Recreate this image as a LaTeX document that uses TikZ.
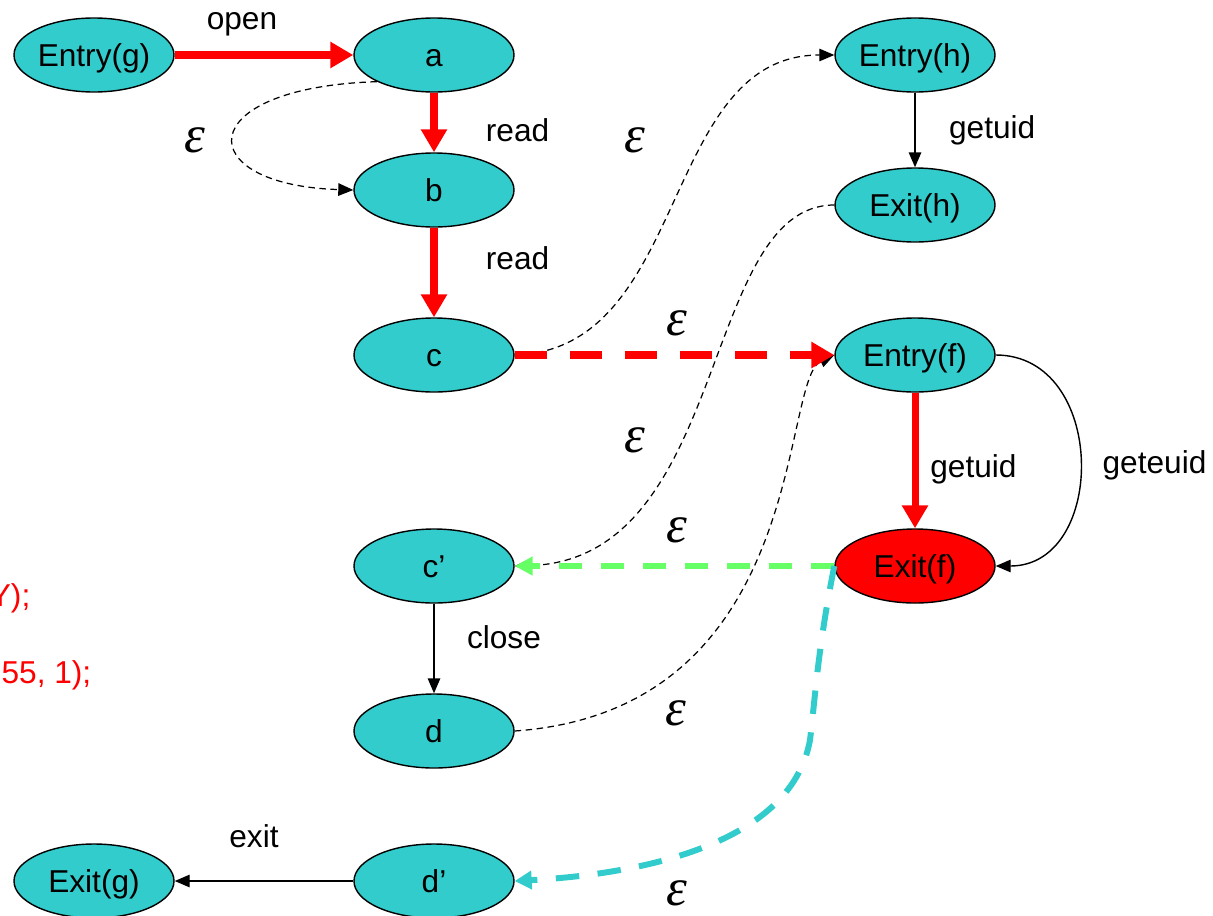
\documentclass[tikz,border=0pt]{standalone}
\usepackage{fontspec}
\setmainfont{Liberation Sans}
\newfontfamily\epsfont{Liberation Serif}
\usepackage{tikz}
\usetikzlibrary{shapes.geometric, arrows.meta}
\definecolor{statecyan}{RGB}{51,204,204}
\definecolor{retgreen}{RGB}{102,255,102}
\newcommand{\epsl}{{\epsfont\itshape\fontsize{30}{32}\selectfont ε}}
\tikzstyle{state} = [ellipse, minimum width=3.2cm, minimum height=1.48cm, inner sep=0pt, text height=13.5pt, text depth=0.6pt, text centered, draw=black, line width=0.8pt, fill=statecyan]
\tikzstyle{exitstate} = [state, fill=red]
\tikzstyle{arrow} = [line width=0.8pt, -{Triangle[length=0.3cm, width=0.25cm]}]
\tikzstyle{epsarrow} = [line width=0.7pt, dash pattern=on 0.13cm off 0.09cm, -{Triangle[length=0.3cm, width=0.25cm]}]
\tikzstyle{redarrow} = [line width=4pt, red, -{Triangle[length=0.46cm, width=0.5cm]}]
\tikzstyle{redepsarrow} = [redarrow, dash pattern=on 0.64cm off 0.46cm]
\tikzstyle{greenarrow} = [line width=3.2pt, retgreen, dash pattern=on 0.47cm off 0.37cm, -{Triangle[length=0.36cm, width=0.36cm]}]
\tikzstyle{cyanarrow} = [line width=3.4pt, statecyan, dash pattern=on 0.47cm off 0.37cm, -{Triangle[length=0.34cm, width=0.36cm]}]

\begin{document}
\begin{tikzpicture}[node distance=3.3cm, font=\fontsize{18}{21}\selectfont]

			\useasboundingbox (0,0) rectangle (24.26,-18.3);

			% left column: g
			\node (entryg) [state] at (1.88,-1.1) {Entry(g)};
			\node (a) [state, right of=entryg, xshift=3.5cm] {a};
			\node (b) [state, below of=a, yshift=0.6cm] {b};
			\node (c) [state, below of=b] {c};
			\node (cp) [state, below of=c, yshift=-0.92cm] {c’};
			\node (d) [state, below of=cp] {d};
			\node (dp) [state, below of=d, yshift=0.3cm] {d’};
			\node (exitg) [state, left of=dp, xshift=-3.5cm] {Exit(g)};

			% right column: h and f
			\node (entryh) [state, right of=a, xshift=6.32cm] {Entry(h)};
			\node (exith) [state, below of=entryh, yshift=0.3cm] {Exit(h)};
			\node (entryf) [state, right of=c, xshift=6.32cm] {Entry(f)};
			\node (exitf) [exitstate, right of=cp, xshift=6.32cm] {Exit(f)};

			% cut-off code lines
			\node (code1) [anchor=east, red] at (0.73,-11.96) {Y);};
			\node (code2) [anchor=east, red] at (1.95,-13.5) {55, 1);};

			\draw [redarrow] (entryg) -- node[midway, above, xshift=-0.44cm, yshift=0.2cm, black]{open} (a);
			\draw [redarrow] (a) -- node[midway, right, xshift=0.85cm, yshift=-0.16cm, black]{read} (b);
			\draw [redarrow] (b) -- node[midway, right, xshift=0.85cm, yshift=0.28cm, black]{read} (c);
			\draw [epsarrow] (a.south west) .. controls (3.8,-1.75) and (3.8,-3.7) .. node[midway, xshift=-0.78cm, yshift=-0.08cm]{\epsl} (b.west);

			\draw [arrow] (entryh) -- node[midway, right, xshift=0.55cm]{getuid} (exith);
			\draw [redarrow] (entryf) -- node[midway, right, xshift=0.12cm, yshift=-0.17cm, black]{getuid} (exitf);
			\draw [arrow] (entryf.east) .. controls (22.15,-7.1) and (22.15,-11.32) .. node[midway, right, xshift=0.33cm, yshift=-0.09cm]{geteuid} (exitf.east);

			\draw [epsarrow] (c.east) .. controls (13.8,-7.0) and (13.2,-1.1) .. node[midway, xshift=-0.8cm, yshift=1.26cm]{\epsl} (entryh.west);
			\draw [epsarrow] (exith.west) .. controls (14.0,-4.1) and (14.6,-11.2) .. node[midway, xshift=-1.4cm, yshift=-1.14cm]{\epsl} (cp.east);
			\draw [epsarrow] (d.east) .. controls (16.2,-14.2) and (15.6,-7.6) .. node[pos=0.2, xshift=0.4cm, yshift=-0.55cm]{\epsl} (entryf.west);
			\draw [redepsarrow] (c) -- node[midway, xshift=0.05cm, yshift=0.64cm, black]{\epsl} (entryf);
			\draw [greenarrow] (exitf) -- node[midway, xshift=0.05cm, yshift=0.72cm, black]{\epsl} (cp);
			\draw [cyanarrow] (exitf.west) .. controls (16.35,-13.0) and (16.3,-14.0) .. (16.2,-14.8)
											.. controls (15.8,-17.0) and (12.5,-17.5) .. node[midway, xshift=-0.39cm, yshift=-0.87cm, black]{\epsl} (dp.east);

			\draw [arrow] (cp) -- node[midway, right, xshift=0.53cm, yshift=0.23cm]{close} (d);
			\draw [arrow] (dp) -- node[midway, above, xshift=-0.2cm, yshift=0.53cm]{exit} (exitg);

		\end{tikzpicture}
\end{document}
